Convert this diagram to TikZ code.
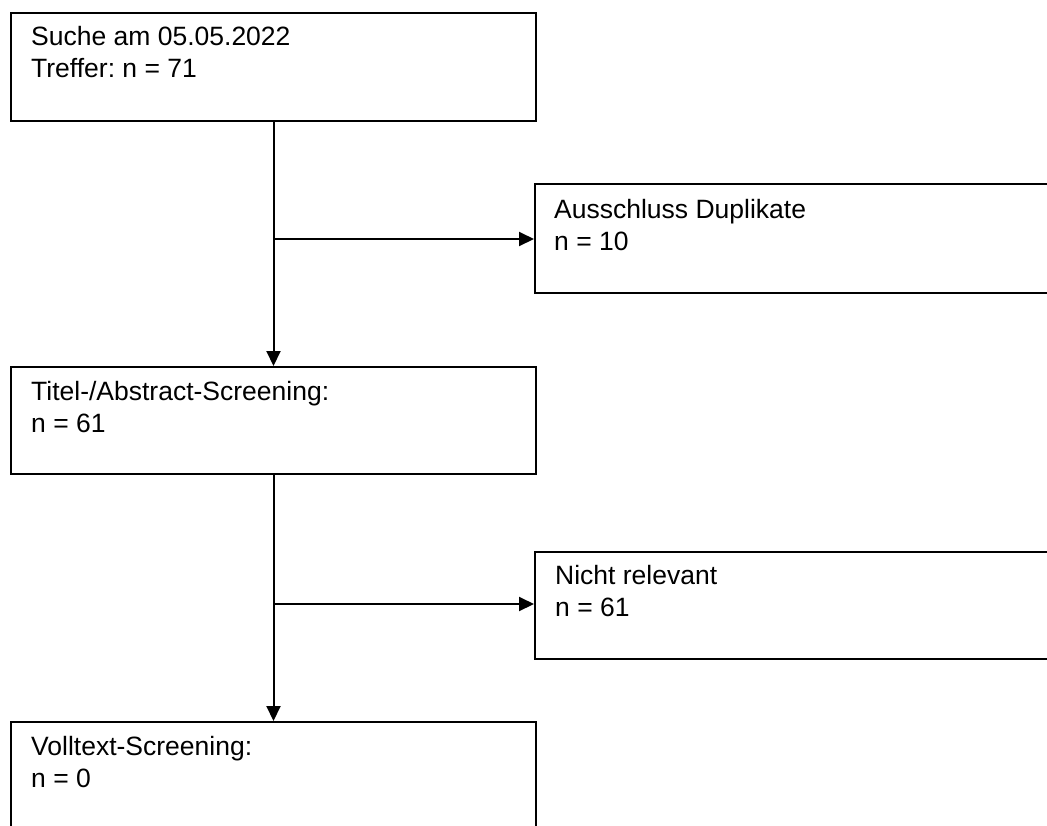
\documentclass[tikz,border=0pt]{standalone}
\usepackage{fontspec}
\setmainfont{Liberation Sans}
\usetikzlibrary{arrows.meta}
\frenchspacing
\newcommand{\twolines}[2]{\vtop{\baselineskip=32pt\hbox{#1}\hbox{#2}}}
\begin{document}
\begin{tikzpicture}[x=1pt,y=-1pt,
  box/.style={draw=black,line width=2pt,inner sep=0pt,anchor=north west,minimum width=#1},
  box/.default=525pt,
  lbl/.style={anchor=base west,inner sep=0pt,font=\fontsize{26.5}{32}\selectfont},
  conn/.style={draw=black,line width=2pt},
  arr/.style={conn,-{Triangle[length=15pt,width=14pt]}}]
\useasboundingbox (0,0) rectangle (1047,825);
\clip (0,0) rectangle (1047,825);
% boxes
\node[box,minimum height=108pt] (b1) at (10,12) {};
\node[box=530pt,minimum height=109pt] (b2) at (534,183) {};
\node[box,minimum height=107pt] (b3) at (10,366) {};
\node[box=530pt,minimum height=107pt] (b4) at (534,551) {};
\node[box,minimum height=130pt] (b5) at (10,721) {};
% texts
\node[lbl] (t1) at (31,45) {\twolines{Suche am 05.05.2022}{Treffer: n = 71}};
\node[lbl] (t2) at (554,218) {\twolines{Ausschluss Duplikate}{n = 10}};
\node[lbl] (t3) at (31,400) {\twolines{Titel-/Abstract-Screening:}{n = 61}};
\node[lbl] (t4) at (555,584) {\twolines{Nicht relevant}{n = 61}};
\node[lbl] (t5) at (31,755) {\twolines{Volltext-Screening:}{n = 0}};
% connectors
\coordinate (j1) at (b1.south |- 0,239);
\coordinate (j2) at (b3.south |- 0,604);
\draw[arr] (b1.south) -- (b3.north);
\draw[arr] (j1) -- (j1 -| b2.west);
\draw[arr] (b3.south) -- (b5.north);
\draw[arr] (j2) -- (j2 -| b4.west);
\end{tikzpicture}
\end{document}
